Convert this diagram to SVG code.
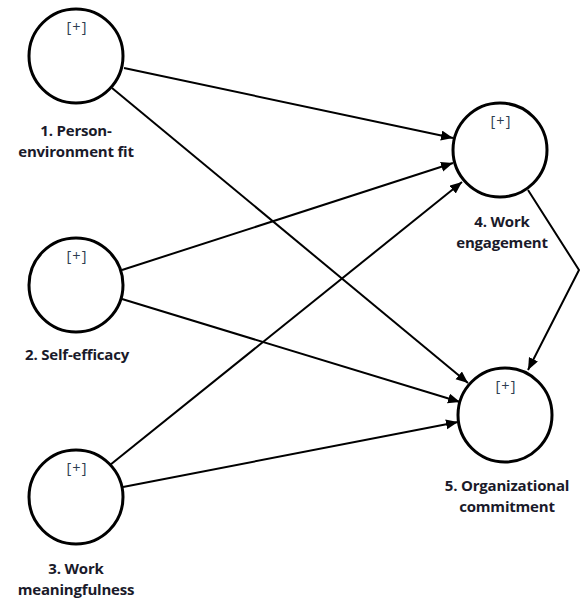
<svg xmlns="http://www.w3.org/2000/svg" width="580" height="600" viewBox="0 0 580 600">
<style>
.c{fill:#fff;stroke:#000;stroke-width:3}
.p{font-family:"Open Sans","Liberation Sans",sans-serif;font-size:14.5px;letter-spacing:1px;fill:#2c3d50;text-anchor:middle}
.l{font-family:"Open Sans","Liberation Sans",sans-serif;font-size:15px;font-weight:bold;letter-spacing:-0.2px;fill:#1a1a2a;text-anchor:middle}
.e{fill:none;stroke:#000;stroke-width:2}
</style>
<defs>
<marker id="ah" markerUnits="userSpaceOnUse" markerWidth="13" markerHeight="11" refX="12" refY="5" orient="auto">
<path d="M0,0 L12,5 L0,10 z" fill="#000"/>
</marker>
</defs>
<rect width="580" height="600" fill="#fff"/>
<g id="connectors">
<line class="e" x1="124" y1="68" x2="453" y2="138" marker-end="url(#ah)"/>
<line class="e" x1="112" y1="88" x2="468" y2="383" marker-end="url(#ah)"/>
<line class="e" x1="122" y1="270" x2="453" y2="163" marker-end="url(#ah)"/>
<line class="e" x1="122" y1="299" x2="460" y2="402" marker-end="url(#ah)"/>
<line class="e" x1="110" y1="465" x2="462" y2="182" marker-end="url(#ah)"/>
<line class="e" x1="123" y1="487" x2="458" y2="422" marker-end="url(#ah)"/>
<polyline class="e" points="528,190 579,270 528,370" marker-end="url(#ah)"/>
</g>
<g id="n1">
<circle class="c" cx="76" cy="56" r="47"/>
<text class="p" x="77" y="32">[+]</text>
<text class="l" x="76" y="136">1. Person-</text>
<text class="l" x="76" y="157">environment fit</text>
</g>
<g id="n2">
<circle class="c" cx="76" cy="285" r="47"/>
<text class="p" x="77" y="261">[+]</text>
<text class="l" x="77" y="360">2. Self-efficacy</text>
</g>
<g id="n3">
<circle class="c" cx="76" cy="497" r="47"/>
<text class="p" x="77" y="473">[+]</text>
<text class="l" x="76" y="574">3. Work</text>
<text class="l" x="76" y="595">meaningfulness</text>
</g>
<g id="n4">
<circle class="c" cx="500" cy="150" r="47"/>
<text class="p" x="501" y="126">[+]</text>
<text class="l" x="502" y="227">4. Work</text>
<text class="l" x="502" y="248">engagement</text>
</g>
<g id="n5">
<circle class="c" cx="505" cy="415" r="47"/>
<text class="p" x="506" y="391">[+]</text>
<text class="l" x="507" y="491">5. Organizational</text>
<text class="l" x="507" y="512">commitment</text>
</g>
</svg>
